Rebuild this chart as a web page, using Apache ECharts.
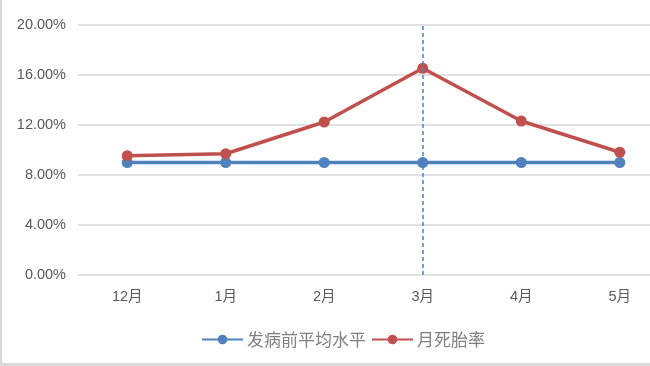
<!DOCTYPE html>
<html><head><meta charset="utf-8">
<script src="https://cdn.jsdelivr.net/npm/echarts@6/dist/echarts.min.js"></script>
<style>
html,body{margin:0;padding:0;background:#fff;}
#frame{position:absolute;left:0;top:0;width:650px;height:366px;box-sizing:border-box;border-left:2px solid #d9d9d9;border-bottom:3px solid #d9d9d9;}
#c{position:absolute;left:0;top:0;width:650px;height:366px;}
</style></head>
<body><div id="frame"></div><div id="c"></div>
<script>
const categories = ['12月','1月','2月','3月','4月','5月'];
const baseline = [9.0, 9.0, 9.0, 9.0, 9.0, 9.0];
const monthly = [9.54, 9.7, 12.24, 16.54, 12.32, 9.82];
const yTicks = [0, 4, 8, 12, 16, 20];
const markMonth = '3月';

const chart = echarts.init(document.getElementById('c'));
const txt = '#595959';
chart.setOption({
  animation:false,
  grid:{left:78, width:591, top:25, bottom:91, containLabel:false, outerBoundsMode:'none'},
  legend:{
    top:326, left:196, itemWidth:41, itemHeight:12, itemGap:5,
    textStyle:{color:'#7f7f7f', fontSize:17, padding:[0,0,0,-1], fontFamily:'Noto Sans CJK SC'},
    data:['发病前平均水平','月死胎率']
  },
  xAxis:{
    type:'category', data:categories, boundaryGap:true,
    axisLine:{show:false}, axisTick:{show:false},
    axisLabel:{color:txt, fontSize:14.5, margin:15, fontFamily:'Liberation Sans, Noto Sans CJK SC'}
  },
  yAxis:{
    type:'value', min:yTicks[0], max:yTicks[yTicks.length-1], interval:4,
    axisLine:{show:false}, axisTick:{show:false},
    axisLabel:{color:txt, fontSize:14.5, margin:12, fontFamily:'Liberation Sans', formatter:v=>v.toFixed(2)+'%'},
    splitLine:{lineStyle:{color:'#d9d9d9', width:1.5}}
  },
  series:[
    {name:'发病前平均水平', type:'line', data:baseline, symbol:'circle', symbolSize:11,
     lineStyle:{color:'#4F81BD', width:3.5}, itemStyle:{color:'#4F81BD'}, z:2,
     markLine:{silent:true, symbol:'none', label:{show:false},
       lineStyle:{color:'#4F81BD', type:[4,3], width:1.5},
       data:[{xAxis:markMonth}]}},
    {name:'月死胎率', type:'line', data:monthly, symbol:'circle', symbolSize:11,
     lineStyle:{color:'#C0504D', width:3.5}, itemStyle:{color:'#C0504D'}, z:3}
  ]
});
</script></body></html>
